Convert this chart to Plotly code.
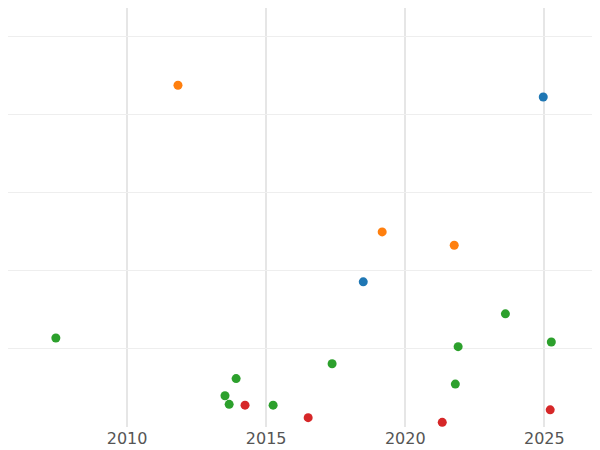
import plotly.graph_objects as go

series_names = ["A", "B", "C", "D"]
colors = ["#1f77b4", "#ff7f0e", "#2ca02c", "#d62728"]
blue_x = [2024.96, 2018.49]
blue_y = [4.23, 1.86]
orange_x = [2011.83, 2019.17, 2021.76]
orange_y = [4.38, 2.50, 2.33]
green_x = [2023.6, 2007.44, 2025.25, 2021.9, 2017.37, 2013.92, 2021.8, 2013.52, 2013.67, 2015.25]
green_y = [1.45, 1.14, 1.09, 1.03, 0.81, 0.62, 0.55, 0.40, 0.29, 0.28]
red_x = [2014.24, 2016.51, 2021.33, 2025.21]
red_y = [0.28, 0.12, 0.06, 0.22]

fig = go.Figure()
for name, c, xs, ys in zip(series_names, colors,
                           [blue_x, orange_x, green_x, red_x],
                           [blue_y, orange_y, green_y, red_y]):
    fig.add_trace(go.Scatter(x=xs, y=ys, mode="markers", name=name,
                             marker=dict(color=c, size=9)))

fig.update_layout(
    width=592, height=442, showlegend=False,
    plot_bgcolor="white", paper_bgcolor="white",
    margin=dict(l=0, r=0, t=0, b=23, autoexpand=False),
    font=dict(family="DejaVu Sans", size=16, color="#555"),
    xaxis=dict(range=[2005.72, 2027.0], tickvals=[2010, 2015, 2020, 2025],
               showgrid=True, gridcolor="#e6e6e6", gridwidth=2, zeroline=False,
               showline=False, ticks=""),
    yaxis=dict(range=[0, 5.37], tickvals=[1, 2, 3, 4, 5], showticklabels=False,
               showgrid=True, gridcolor="#eeeeee", gridwidth=1, zeroline=False),
)
fig.write_html("out.html")
